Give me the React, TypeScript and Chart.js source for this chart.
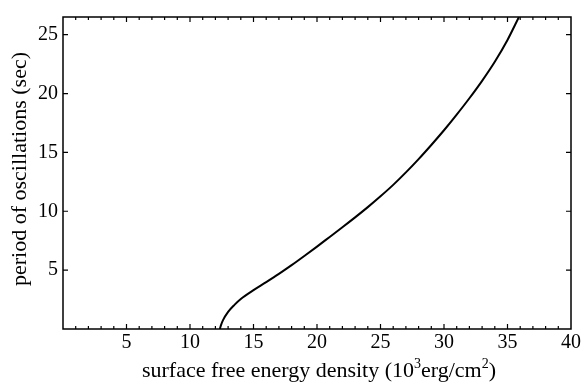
import React, { useEffect, useRef } from "react";
import { Chart, registerables } from "chart.js";

Chart.register(...registerables);

const energyDensity = [12.35, 12.45, 12.6, 13.0, 13.5, 14.0, 15.0, 16.0, 17.0, 18.0, 19.0, 20.0, 21.0, 22.0, 23.0, 24.0, 25.0, 26.0, 27.0, 28.0, 29.0, 30.0, 31.0, 32.0, 33.0, 34.0, 35.0, 35.9];
const period = [0.0, 0.35, 0.75, 1.45, 2.05, 2.55, 3.3, 3.98, 4.68, 5.42, 6.2, 7.0, 7.82, 8.64, 9.48, 10.35, 11.27, 12.24, 13.3, 14.43, 15.63, 16.88, 18.21, 19.6, 21.08, 22.7, 24.55, 26.5];
const xTicks = [5, 10, 15, 20, 25, 30, 35, 40];
const yTicks = [5, 10, 15, 20, 25];
const xTitleMain = "surface free energy density (10";
const xTitleSup1 = "3";
const xTitleMid = "erg/cm";
const xTitleSup2 = "2";
const xTitleEnd = ")";
const yTitle = "period of oscillations (sec)";

const FONT = "'Liberation Serif', 'Times New Roman', serif";

const decorPlugin = {
  id: "decor",
  afterDraw(chart: any) {
    const ctx = chart.ctx;
    const a = chart.chartArea;
    const xs = chart.scales.x;
    const ys = chart.scales.y;
    ctx.save();
    ctx.strokeStyle = "#000";
    ctx.lineWidth = 1.5;
    ctx.strokeRect(a.left, a.top, a.right - a.left, a.bottom - a.top);
    ctx.lineWidth = 1.2;
    ctx.beginPath();
    for (let v = 1; v < 40; v++) {
      const px = xs.getPixelForValue(v);
      const len = v % 5 === 0 ? 5 : 3;
      ctx.moveTo(px, a.bottom);
      ctx.lineTo(px, a.bottom - len);
      ctx.moveTo(px, a.top);
      ctx.lineTo(px, a.top + len);
    }
    for (const v of yTicks) {
      const py = ys.getPixelForValue(v);
      ctx.moveTo(a.left, py);
      ctx.lineTo(a.left + 5, py);
      ctx.moveTo(a.right, py);
      ctx.lineTo(a.right - 5, py);
    }
    ctx.stroke();

    // x title with superscripts
    ctx.fillStyle = "#000";
    ctx.textBaseline = "alphabetic";
    const big = "22px " + FONT;
    const small = "14px " + FONT;
    ctx.font = big;
    const w1 = ctx.measureText(xTitleMain).width;
    const w3 = ctx.measureText(xTitleMid).width;
    const w5 = ctx.measureText(xTitleEnd).width;
    ctx.font = small;
    const w2 = ctx.measureText(xTitleSup1).width;
    const w4 = ctx.measureText(xTitleSup2).width;
    const total = w1 + w2 + w3 + w4 + w5;
    let x = 319 - total / 2;
    const base = 377;
    ctx.textAlign = "left";
    ctx.font = big;
    ctx.fillText(xTitleMain, x, base); x += w1;
    ctx.font = small;
    ctx.fillText(xTitleSup1, x, base - 9); x += w2;
    ctx.font = big;
    ctx.fillText(xTitleMid, x, base); x += w3;
    ctx.font = small;
    ctx.fillText(xTitleSup2, x, base - 9); x += w4;
    ctx.font = big;
    ctx.fillText(xTitleEnd, x, base);

    // y title
    ctx.save();
    ctx.translate(26, 169);
    ctx.rotate(-Math.PI / 2);
    ctx.textAlign = "center";
    ctx.textBaseline = "alphabetic";
    ctx.font = big;
    ctx.fillText(yTitle, 0, 0);
    ctx.restore();
    ctx.restore();
  },
};

export default function App() {
  const ref = useRef<HTMLCanvasElement>(null);
  useEffect(() => {
    if (!ref.current) return;
    const chart = new Chart(ref.current, {
      type: "line",
      data: {
        datasets: [
          {
            data: energyDensity.map((x, i) => ({ x, y: period[i] })),
            borderColor: "#000",
            borderWidth: 2,
            pointRadius: 0,
            cubicInterpolationMode: "monotone",
            fill: false,
          },
        ],
      },
      options: {
        responsive: false,
        animation: false,
        layout: { padding: { top: 13, right: 16, left: 0, bottom: 0 } },
        plugins: { legend: { display: false }, tooltip: { enabled: false } },
        scales: {
          x: {
            type: "linear",
            min: 0,
            max: 40,
            afterFit: (s: any) => { s.height = 57; },
            afterBuildTicks: (s: any) => { s.ticks = xTicks.map((v) => ({ value: v })); },
            grid: { display: false, drawTicks: false },
            border: { display: false },
            ticks: { color: "#000", font: { family: FONT, size: 20 }, padding: 2, maxRotation: 0 },
          },
          y: {
            type: "linear",
            min: 0,
            max: 26.5,
            afterFit: (s: any) => { s.width = 63; },
            afterBuildTicks: (s: any) => { s.ticks = yTicks.map((v) => ({ value: v })); },
            grid: { display: false, drawTicks: false },
            border: { display: false },
            ticks: { color: "#000", font: { family: FONT, size: 20 }, padding: 5 },
          },
        },
      },
      plugins: [decorPlugin],
    } as any);
    return () => chart.destroy();
  }, []);
  return (
    <div style={{ position: "absolute", left: 0, top: 0, width: 587, height: 386, background: "#fff" }}>
      <canvas ref={ref} width={587} height={386} />
    </div>
  );
}
